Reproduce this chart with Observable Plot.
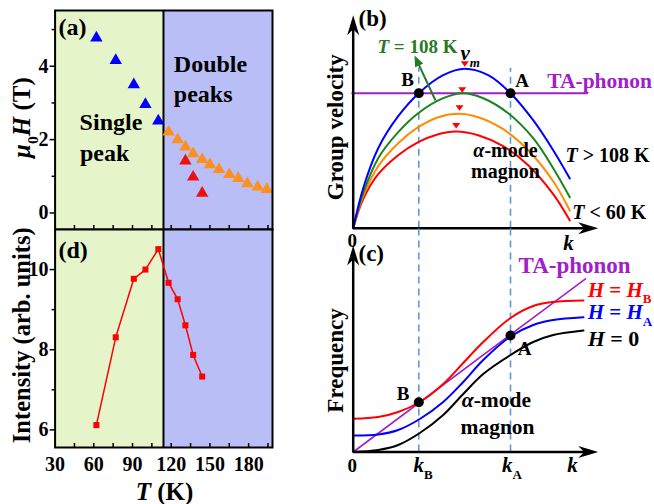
<!DOCTYPE html>
<html><head><meta charset="utf-8">
<script src="https://cdn.jsdelivr.net/npm/d3@7"></script>
<script src="https://cdn.jsdelivr.net/npm/@observablehq/plot@0.6"></script>
<style>
body{margin:0;background:#fff;}
#fig{position:relative;width:654px;height:504px;overflow:hidden;}
#fig svg{position:absolute;}
</style></head><body><div id="fig"></div>
<script>
// ---------- data: panel (a) ----------
const singleT = [62, 77, 91, 100, 110];
const singleH = [4.77, 4.16, 3.50, 2.96, 2.51];
const upperT = [118, 125, 131, 137, 144, 150, 157, 165, 172, 179, 187, 194];
const upperH = [2.21, 2.00, 1.80, 1.62, 1.46, 1.32, 1.19, 1.05, 0.94, 0.80, 0.71, 0.64];
const lowerT = [131, 137, 144];
const lowerH = [1.42, 0.98, 0.54];
// ---------- data: panel (d) ----------
const intT = [62, 77, 91, 100, 110, 118, 125, 131, 137, 144];
const intensity = [6.12, 8.31, 9.77, 10.0, 10.51, 9.67, 9.26, 8.61, 7.87, 7.33];
// ---------- axes / regions ----------
const Tdomain = [30, 198.5];
const dividerT = [114];
const tempTickLabels = [30, 60, 90, 120, 150, 180];
const tempMinorTicks = [45, 60, 75, 90, 105, 120, 135, 150, 165, 180, 195];
const hMajor = [0, 2, 4], hMinor = [1, 3, 5];
const iMajor = [6, 8, 10], iMinor = [7, 9];
// ---------- schematic (b): group velocity vs k ----------
const kMarks = [65.6, 157.3]; // kB, kA
const vBlueK = [0, 10, 25, 45, 65.6, 90, 111.6, 135, 157.3, 180, 200, 216.6];
const vBlue = [0, 40, 80, 112, 135, 153, 159.4, 153, 135, 108, 78, 49.7];
const vGreenK = [0, 10, 25, 45, 65, 90, 109.3, 130, 155, 180, 200, 216.6];
const vGreen = [0, 35, 70, 96, 115, 130, 135, 130, 115, 90, 60, 31];
const vOrangeK = [0, 10, 25, 45, 65, 85, 105.6, 125, 150, 175, 200, 216.6];
const vOrange = [0, 32, 62, 85, 101, 111, 114.4, 111, 99, 78, 47, 17.7];
const vRedK = [0, 10, 25, 45, 65, 85, 102.8, 125, 150, 175, 200, 216.6];
const vRed = [0, 29, 54, 73, 86, 94, 96.7, 93, 82, 63, 34, 7.7];
const peakK = [111.6, 109, 106.3, 103];
const peakV = [164.4, 138.4, 120.4, 102.7];
const taVK = [-1, 234], taV = [135, 135];
const abV = [135, 135];
// ---------- schematic (c): frequency vs k ----------
const fK = [0, 25, 45, 66.6, 90, 110, 130, 157.3, 180, 200, 230.3];
const fRed = [33.2, 35, 40, 50, 68, 89, 110, 134, 146, 150, 151.5];
const fBlue = [16.5, 17.5, 22, 33, 50, 70, 92, 115.5, 127, 132, 134.8];
const fBlack = [0, 2, 7, 19, 37, 58, 78, 97, 110, 117, 121.5];
const taFK = [0, 232.3], taF = [0, 173.2];
const abF = [49.8, 116.5];

// ---------- helpers ----------
const zip = (xs, ys) => xs.map((x, i) => ({x, y: ys[i]}));
const FONT = "'Liberation Serif','Times New Roman',serif";
const style = {background: "transparent", overflow: "visible", fontFamily: FONT, fontWeight: "bold", fontSize: "20px", color: "black"};
const GREEN = "#1a861a", GREEN_T = "#267a26", PURPLE = "#a020c8", ORANGE = "#ff8c00", BLUE = "#0000ff", RED = "#ff0000", DASH = "#5b9bd5";
const FILL_G = "#e5f5c9", FILL_B = "#b9bef6";
const intFmt = d => String(d);

function arrowSymbol(angle, len, hw, notch) {
  const a = angle * Math.PI / 180, c = Math.cos(a), s = Math.sin(a);
  const pts = [[0, 0], [-hw, len], [0, len - notch], [hw, len]].map(([x, y]) => [x * c - y * s, x * s + y * c]);
  return {draw(ctx) { ctx.moveTo(...pts[0]); for (let i = 1; i < pts.length; i++) ctx.lineTo(...pts[i]); ctx.closePath(); }};
}
const downTri = {draw(ctx) { ctx.moveTo(-4, -2.5); ctx.lineTo(4, -2.5); ctx.lineTo(0, 3); ctx.closePath(); }};

function richify(svg) {
  svg.querySelectorAll("text").forEach(el => {
    const s = el.textContent;
    if (!/\*|_\{|_\[/.test(s)) return;
    const fs = parseFloat(getComputedStyle(el).fontSize) || 20;
    const parts = s.split(/(\*[^*]+\*|_\{[^}]+\}|_\[[^\]]+\])/).filter(p => p);
    while (el.firstChild) el.removeChild(el.firstChild);
    let shift = 0;
    for (const p of parts) {
      const t = document.createElementNS("http://www.w3.org/2000/svg", "tspan");
      let txt = p, italic = false, sub = false;
      if (p.startsWith("*")) { txt = p.slice(1, -1); italic = true; }
      else if (p.startsWith("_{")) { txt = p.slice(2, -1); sub = true; }
      else if (p.startsWith("_[")) { txt = p.slice(2, -1); sub = true; italic = true; }
      t.textContent = txt;
      if (italic) t.setAttribute("font-style", "italic");
      const want = sub ? fs * 0.32 : 0;
      if (want !== shift) { t.setAttribute("dy", (want - shift) + "px"); shift = want; }
      if (sub) t.setAttribute("font-size", (fs * 0.62) + "px");
      el.appendChild(t);
    }
  });
}
function place(svg, left, top) {
  svg.style.left = left + "px"; svg.style.top = top + "px";
  document.getElementById("fig").appendChild(svg);
  richify(svg);
}

// ---------- panel (a) ----------
const aText = [
  {t: "(a)", x: 32.6, y: 5.05, s: 24},
  {t: "Single", x: 49, y: 2.46, s: 24},
  {t: "peak", x: 49.3, y: 1.63, s: 24},
  {t: "Double", x: 122, y: 4.05, s: 24},
  {t: "peaks", x: 122, y: 3.23, s: 24}
];
const pa = Plot.plot({
  width: 300, height: 229, marginLeft: 54.6, marginRight: 28, marginTop: 10, marginBottom: 0,
  x: {domain: Tdomain, axis: null}, y: {domain: [-0.45, 5.52]},
  style,
  marks: [
    Plot.rect([0], {x1: () => Tdomain[0], x2: () => dividerT[0], fill: FILL_G}),
    Plot.rect([0], {x1: () => dividerT[0], x2: () => Tdomain[1], fill: FILL_B}),
    Plot.ruleX(dividerT, {stroke: "black", strokeWidth: 2}),
    Plot.axisY({ticks: hMajor, tickSize: 5, tickPadding: 1.5, tickFormat: intFmt, label: null, strokeWidth: 1.5}),
    Plot.axisY({ticks: hMinor, tickSize: 3, tickFormat: () => "", label: null, strokeWidth: 1.5}),
    Plot.ruleX(tempMinorTicks, {y1: -0.45, y2: -0.45 + 0.11, stroke: "black", strokeWidth: 1.5}),
    Plot.dot(zip(singleT, singleH), {x: "x", y: "y", symbol: "triangle", r: 4.6, fill: BLUE}),
    Plot.dot(zip(upperT, upperH), {x: "x", y: "y", symbol: "triangle", r: 4.6, fill: "#ff8f1f"}),
    Plot.dot(zip(lowerT, lowerH), {x: "x", y: "y", symbol: "triangle", r: 4.6, fill: "#ee1010"}),
    Plot.text(aText, {x: "x", y: "y", text: "t", fontSize: d => d.s, textAnchor: "start"}),
    Plot.text(["*μ*_{0}*H* (T)"], {x: () => 4.7, y: () => 2.6, text: d => d, rotate: -90, fontSize: 25}),
    Plot.frame({stroke: "black", strokeWidth: 2})
  ]
});
place(pa, 0, 0);

// ---------- panel (d) ----------
const pd = Plot.plot({
  width: 300, height: 275, marginLeft: 54.6, marginRight: 28, marginTop: 0, marginBottom: 57,
  x: {domain: Tdomain}, y: {domain: [5.56, 11.0]},
  style,
  marks: [
    Plot.rect([0], {x1: () => Tdomain[0], x2: () => dividerT[0], fill: FILL_G}),
    Plot.rect([0], {x1: () => dividerT[0], x2: () => Tdomain[1], fill: FILL_B}),
    Plot.ruleX(dividerT, {stroke: "black", strokeWidth: 2}),
    Plot.axisY({ticks: iMajor, tickSize: 5, tickPadding: 1.5, tickFormat: intFmt, label: null, strokeWidth: 1.5}),
    Plot.axisY({ticks: iMinor, tickSize: 3, tickFormat: () => "", label: null, strokeWidth: 1.5}),
    Plot.axisX({ticks: tempTickLabels, tickSize: 0, tickPadding: 9, tickFormat: intFmt, label: null}),
    Plot.ruleX(tempMinorTicks, {y1: 5.56, y2: 5.56 + 0.1, stroke: "black", strokeWidth: 1.5}),
    Plot.line(zip(intT, intensity), {x: "x", y: "y", stroke: RED, strokeWidth: 1.5}),
    Plot.dot(zip(intT, intensity), {x: "x", y: "y", symbol: "square", r: 3.4, fill: RED}),
    Plot.text(["(d)"], {x: () => 32.6, y: () => 10.48, text: d => d, fontSize: 24, textAnchor: "start"}),
    Plot.text(["Intensity (arb. units)"], {x: () => 4.7, y: () => 8.36, text: d => d, rotate: -90, fontSize: 24.5}),
    Plot.text(["*T* (K)"], {x: () => 114.8, y: () => 4.46, text: d => d, fontSize: 25}),
    Plot.frame({stroke: "black", strokeWidth: 2})
  ]
});
place(pd, 0, 229);

// ---------- panel (b) ----------
const bStart = [
  {t: "(b)", x: 5.3, y: 209.7, s: 23, c: "black"},
  {t: "*T* = 108 K", x: 24.3, y: 181.7, s: 19, c: GREEN_T},
  {t: "*ν*_[m]", x: 107.3, y: 174.7, s: 21, c: "black"},
  {t: "TA-phonon", x: 194, y: 146.7, s: 21.5, c: PURPLE},
  {t: "*T* > 108 K", x: 212.3, y: 72.7, s: 20, c: "black"},
  {t: "*T* < 60 K", x: 219, y: 16, s: 20, c: "black"}
];
const bMid = [
  {t: "B", x: 54.3, y: 148.7, s: 19},
  {t: "A", x: 169, y: 147.7, s: 19},
  {t: "*α*-mode", x: 152.3, y: 78, s: 20},
  {t: "magnon", x: 152.3, y: 56.7, s: 20},
  {t: "0", x: -1, y: -12.3, s: 19},
  {t: "*k*", x: 215.3, y: -15.3, s: 21}
];
const pb = Plot.plot({
  width: 354, height: 245, marginLeft: 52.7, marginRight: 56.3, marginTop: 14.7, marginBottom: 17.3,
  x: {domain: [0, 245], axis: null}, y: {domain: [0, 213], axis: null},
  color: {type: "identity"},
  style,
  marks: [
    Plot.ruleX(kMarks, {y1: 0, y2: 160, stroke: DASH, strokeWidth: 1.6, strokeDasharray: "7,5"}),
    Plot.line(zip(taVK, taV), {x: "x", y: "y", stroke: PURPLE, strokeWidth: 2}),
    Plot.line(zip(vRedK, vRed), {x: "x", y: "y", stroke: RED, strokeWidth: 2, curve: "catmull-rom"}),
    Plot.line(zip(vOrangeK, vOrange), {x: "x", y: "y", stroke: ORANGE, strokeWidth: 2, curve: "catmull-rom"}),
    Plot.line(zip(vGreenK, vGreen), {x: "x", y: "y", stroke: GREEN, strokeWidth: 2, curve: "catmull-rom"}),
    Plot.line(zip(vBlueK, vBlue), {x: "x", y: "y", stroke: BLUE, strokeWidth: 2, curve: "catmull-rom"}),
    Plot.dot(zip(peakK, peakV), {x: "x", y: "y", symbol: downTri, r: 4, fill: RED, stroke: "none"}),
    Plot.link([0], {x1: () => 82.3, y1: () => 127.7, x2: () => 63.5, y2: () => 168, stroke: GREEN_T, strokeWidth: 2}),
    Plot.dot([0], {x: () => 61.3, y: () => 172.7, symbol: arrowSymbol(-25, 11, 4.5, 0), r: 4, fill: GREEN_T, stroke: "none"}),
    Plot.dot(zip(kMarks, abV), {x: "x", y: "y", r: 5, fill: "black", stroke: "none"}),
    Plot.link([0], {x1: () => 0, y1: () => 0, x2: () => 0, y2: () => 200, stroke: "black", strokeWidth: 2.5}),
    Plot.link([0], {x1: () => 0, y1: () => 0, x2: () => 233, y2: () => 0, stroke: "black", strokeWidth: 2.5}),
    Plot.dot([0], {x: () => 0, y: () => 213, symbol: arrowSymbol(0, 20, 6, 6), r: 5, fill: "black", stroke: "none"}),
    Plot.dot([0], {x: () => 245, y: () => 0, symbol: arrowSymbol(90, 20, 6, 6), r: 5, fill: "black", stroke: "none"}),
    Plot.text(bStart, {x: "x", y: "y", text: "t", fontSize: d => d.s, fill: d => d.c, textAnchor: "start"}),
    Plot.text(bMid, {x: "x", y: "y", text: "t", fontSize: d => d.s}),
    Plot.text(["Group velocity"], {x: () => -17.7, y: () => 101, text: d => d, rotate: -90, fontSize: 23})
  ]
});
place(pb, 300, 0);

// ---------- panel (c) ----------
const cStart = [
  {t: "(c)", x: 5.3, y: 198, s: 23, c: "black"},
  {t: "TA-phonon", x: 165.3, y: 186.5, s: 23, c: PURPLE},
  {t: "*H* = *H*_{B}", x: 234.5, y: 162, s: 21, c: RED},
  {t: "*H* = *H*_{A}", x: 234.5, y: 139.5, s: 21, c: BLUE},
  {t: "*H* = 0", x: 234.5, y: 113.5, s: 22, c: "black"}
];
const cMid = [
  {t: "B", x: 49.8, y: 58.5, s: 19},
  {t: "A", x: 171.3, y: 103.5, s: 19},
  {t: "*α*-mode", x: 143.2, y: 52, s: 21.5},
  {t: "magnon", x: 144.3, y: 25, s: 21.5},
  {t: "0", x: -1, y: -13.5, s: 19},
  {t: "*k*_{B}", x: 69.8, y: -13.5, s: 21},
  {t: "*k*_{A}", x: 158.8, y: -13.5, s: 21},
  {t: "*k*", x: 219.3, y: -13.5, s: 21}
];
const pc = Plot.plot({
  width: 354, height: 274, marginLeft: 52.7, marginRight: 56.3, marginTop: 15, marginBottom: 52.5,
  x: {domain: [0, 245], axis: null}, y: {domain: [0, 206.5], axis: null},
  color: {type: "identity"},
  style,
  marks: [
    Plot.ruleX(kMarks, {y1: 0, y2: 223.5, stroke: DASH, strokeWidth: 1.6, strokeDasharray: "7,5"}),
    Plot.line(zip(taFK, taF), {x: "x", y: "y", stroke: PURPLE, strokeWidth: 1.6}),
    Plot.line(zip(fK, fBlack), {x: "x", y: "y", stroke: "black", strokeWidth: 2, curve: "catmull-rom"}),
    Plot.line(zip(fK, fBlue), {x: "x", y: "y", stroke: BLUE, strokeWidth: 2, curve: "catmull-rom"}),
    Plot.line(zip(fK, fRed), {x: "x", y: "y", stroke: RED, strokeWidth: 2, curve: "catmull-rom"}),
    Plot.dot(zip(kMarks, abF), {x: "x", y: "y", r: 5, fill: "black", stroke: "none"}),
    Plot.link([0], {x1: () => 0, y1: () => 0, x2: () => 0, y2: () => 194, stroke: "black", strokeWidth: 2.5}),
    Plot.link([0], {x1: () => 0, y1: () => 0, x2: () => 233, y2: () => 0, stroke: "black", strokeWidth: 2.5}),
    Plot.dot([0], {x: () => 0, y: () => 206.5, symbol: arrowSymbol(0, 20, 6, 6), r: 5, fill: "black", stroke: "none"}),
    Plot.dot([0], {x: () => 245, y: () => 0, symbol: arrowSymbol(90, 20, 6, 6), r: 5, fill: "black", stroke: "none"}),
    Plot.text(cStart, {x: "x", y: "y", text: "t", fontSize: d => d.s, fill: d => d.c, textAnchor: "start"}),
    Plot.text(cMid, {x: "x", y: "y", text: "t", fontSize: d => d.s}),
    Plot.text(["Frequency"], {x: () => -17.7, y: () => 91.5, text: d => d, rotate: -90, fontSize: 23})
  ]
});
place(pc, 300, 230);
</script></body></html>
